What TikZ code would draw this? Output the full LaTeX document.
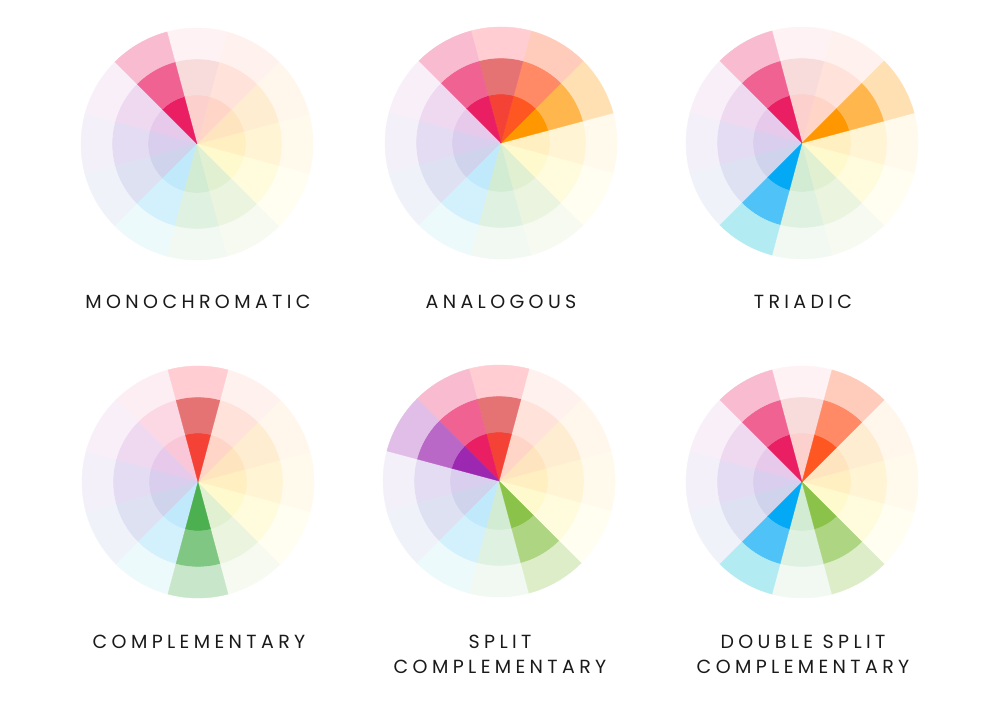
\documentclass[tikz,border=0pt]{standalone}
\usepackage{fontspec}
\setmainfont{Poppins}
\newfontfamily\lblfont{Poppins}[LetterSpace=23]
% inner (A), middle (B), outer (C) colours, by centre angle of the sector
\definecolor{A90}{HTML}{F44336}\definecolor{B90}{HTML}{E57373}\definecolor{C90}{HTML}{FFCDD2}
\definecolor{A120}{HTML}{E91E63}\definecolor{B120}{HTML}{F06292}\definecolor{C120}{HTML}{F8BBD0}
\definecolor{A150}{HTML}{9C27B0}\definecolor{B150}{HTML}{BA68C8}\definecolor{C150}{HTML}{E1BEE7}
\definecolor{A180}{HTML}{673AB7}\definecolor{B180}{HTML}{9575CD}\definecolor{C180}{HTML}{D1C4E9}
\definecolor{A210}{HTML}{3F51B5}\definecolor{B210}{HTML}{7986CB}\definecolor{C210}{HTML}{C5CAE9}
\definecolor{A240}{HTML}{03A9F4}\definecolor{B240}{HTML}{4FC3F7}\definecolor{C240}{HTML}{B2EBF2}
\definecolor{A270}{HTML}{4CAF50}\definecolor{B270}{HTML}{81C784}\definecolor{C270}{HTML}{C8E6C9}
\definecolor{A300}{HTML}{8BC34A}\definecolor{B300}{HTML}{AED581}\definecolor{C300}{HTML}{DCEDC8}
\definecolor{A330}{HTML}{FFEB3B}\definecolor{B330}{HTML}{FFF176}\definecolor{C330}{HTML}{FFF9C4}
\definecolor{A0}{HTML}{FFC107}\definecolor{B0}{HTML}{FFD54F}\definecolor{C0}{HTML}{FFECB3}
\definecolor{A30}{HTML}{FF9800}\definecolor{B30}{HTML}{FFB74D}\definecolor{C30}{HTML}{FFE0B2}
\definecolor{A60}{HTML}{FF5722}\definecolor{B60}{HTML}{FF8A65}\definecolor{C60}{HTML}{FFCCBC}
\definecolor{lbltext}{HTML}{1A1A1A}
\newcommand{\wsector}[2]{% #1 = centre angle, #2 = fade (100 = full)
  \pgfmathsetmacro\lo{#1-15}\pgfmathsetmacro\hi{#1+15}%
  \fill[fill=A#1!#2!white, draw=A#1!#2!white, line width=0.3pt]
    (0,0) -- (\lo:49) arc[start angle=\lo, end angle=\hi, radius=49] -- cycle;
  \fill[fill=B#1!#2!white, draw=B#1!#2!white, line width=0.3pt]
    (\lo:49) -- (\lo:85) arc[start angle=\lo, end angle=\hi, radius=85]
    -- (\hi:49) arc[start angle=\hi, end angle=\lo, radius=49] -- cycle;
  \fill[fill=C#1!#2!white, draw=C#1!#2!white, line width=0.3pt]
    (\lo:85) -- (\lo:116) arc[start angle=\lo, end angle=\hi, radius=116]
    -- (\hi:85) arc[start angle=\hi, end angle=\lo, radius=85] -- cycle;
}
\newcommand{\colorwheel}[3]{% #1,#2 = centre, #3 = highlighted angles
  \begin{scope}[shift={(#1,#2)}]
    \foreach \a in {0,30,...,330}{\wsector{\a}{25}}
    \foreach \a in {#3}{\wsector{\a}{100}}
  \end{scope}
}
\begin{document}
\begin{tikzpicture}[x=1pt, y=1pt,
  lbl/.style={font=\lblfont\fontsize{19}{25.5}\selectfont, text=lbltext,
    inner sep=0pt, align=center, anchor=base}]
\useasboundingbox[fill=white] (0,0) rectangle (1000,701);
% top row (y measured from the bottom: 701 - pixel row)
\colorwheel{197}{557}{120}
\colorwheel{501}{558}{30,60,90,120}
\colorwheel{802}{558}{30,120,240}
% bottom row
\colorwheel{198}{219}{90,270}
\colorwheel{499}{220}{90,120,150,300}
\colorwheel{802}{219}{60,120,240,300}
% labels (base anchor = baseline of the last line)
\node[lbl] (mono) at (198,392) {MONOCHROMATIC};
\node[lbl] (ana)  at (501,392) {ANALOGOUS};
\node[lbl] (tri)  at (803,392) {TRIADIC};
\node[lbl] (comp) at (199,53) {COMPLEMENTARY};
\node[lbl] (split) at (500,27.5) {SPLIT\\COMPLEMENTARY};
\node[lbl] (dsplit) at (803,27.5) {DOUBLE SPLIT\\COMPLEMENTARY};
\end{tikzpicture}
\end{document}
